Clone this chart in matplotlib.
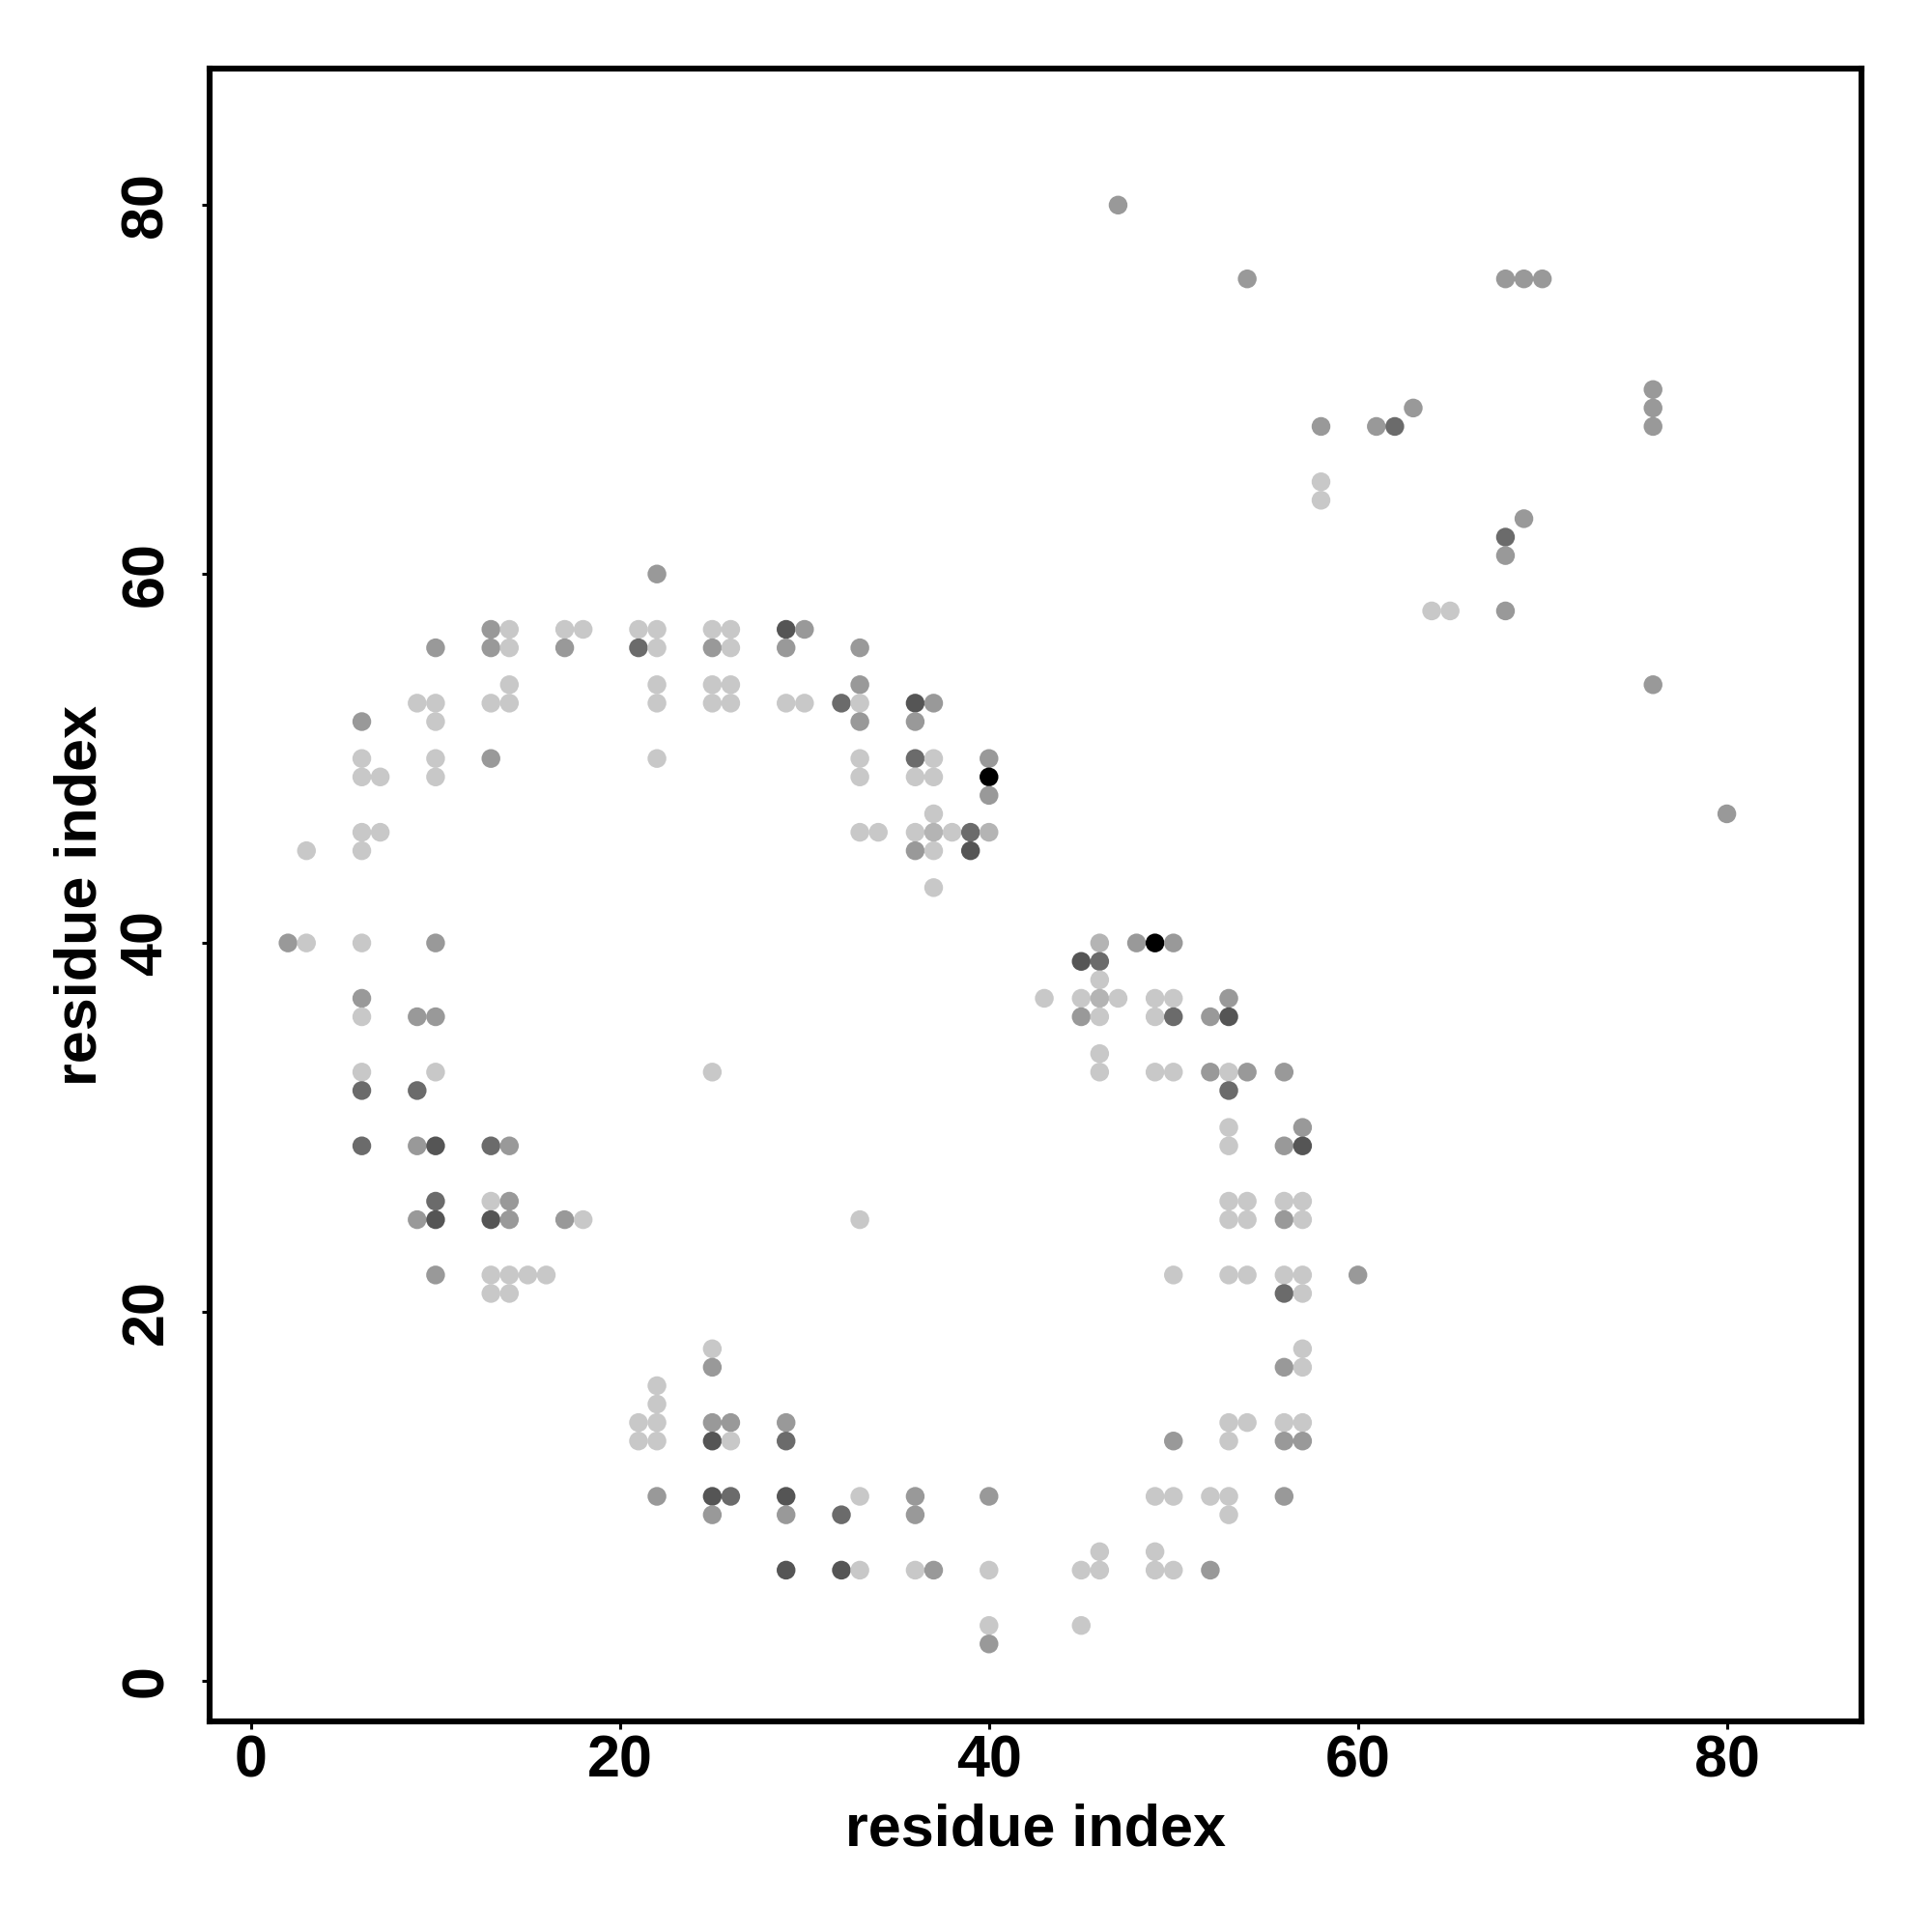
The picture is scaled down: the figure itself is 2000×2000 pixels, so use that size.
import matplotlib
matplotlib.use("Agg")
import matplotlib.pyplot as plt

plt.rcParams['font.family'] = ['Liberation Sans', 'DejaVu Sans']
plt.rcParams['font.weight'] = 'bold'

# contact rows: residue index on y, contacting residues on x, shade codes per contact
row_y = [80, 76, 70, 69, 68, 65, 64, 63, 62, 61, 60, 58, 57, 56, 54, 53, 52, 50, 49, 48,
         47, 46, 45, 43, 40, 39, 38, 37, 36, 34, 33, 32, 30, 29, 26, 25, 22, 21, 18, 17,
         16, 15, 14, 13, 10, 9, 7, 6, 3, 2]
row_x = [
    [47],
    [54, 68, 69, 70],
    [76],
    [63, 76],
    [58, 61, 62, 76],
    [58],
    [58],
    [69],
    [68],
    [68],
    [22],
    [64, 65, 68],
    [13, 14, 17, 18, 21, 22, 25, 26, 29, 30],
    [10, 13, 14, 17, 21, 22, 25, 26, 29, 33],
    [14, 22, 25, 26, 33, 76],
    [9, 10, 13, 14, 22, 25, 26, 29, 30, 32, 33, 36, 37],
    [6, 10, 33, 36],
    [6, 10, 13, 22, 33, 36, 37, 40],
    [6, 7, 10, 33, 36, 37, 40],
    [40],
    [37, 80],
    [6, 7, 33, 34, 36, 37, 38, 39, 40],
    [3, 6, 36, 37, 39],
    [37],
    [2, 3, 6, 10, 46, 48, 49, 50],
    [45, 46],
    [46],
    [6, 43, 45, 46, 47, 49, 50, 53],
    [6, 9, 10, 45, 46, 49, 50, 52, 53],
    [46],
    [6, 10, 25, 46, 49, 50, 52, 53, 54, 56],
    [6, 9, 53],
    [53, 57],
    [6, 9, 10, 13, 14, 53, 56, 57],
    [10, 13, 14, 53, 54, 56, 57],
    [9, 10, 13, 14, 17, 18, 33, 53, 54, 56, 57],
    [10, 13, 14, 15, 16, 50, 53, 54, 56, 57, 60],
    [13, 14, 56, 57],
    [25, 57],
    [25, 56, 57],
    [22],
    [22],
    [21, 22, 25, 26, 29, 53, 54, 56, 57],
    [21, 22, 25, 26, 29, 50, 53, 56, 57],
    [22, 25, 26, 29, 33, 36, 40, 49, 50, 52, 53, 56],
    [25, 29, 32, 36, 53],
    [46, 49],
    [29, 32, 33, 36, 37, 40, 45, 46, 49, 50, 52],
    [40, 45],
    [40],
]
row_shade = [
    "3", "3333", "3", "33", "3343", "1", "1", "3", "4", "3", "3", "113",
    "3111111153", "3313413133", "111133", "1111111114153", "3133", "11311413",
    "1111116", "3", "13", "111112142", "11315", "1", "31132363", "54", "1",
    "31121113", "133311435", "1", "1111113133", "444", "13", "43543135",
    "4131111", "35533111131", "31111111113", "1141", "11", "331", "1", "1",
    "113331111", "115143133", "354513311113", "33431", "11", "55113111113",
    "11", "3",
]
shade_colors = {"1": "#C8C8C8", "2": "#B4B4B4", "3": "#999999",
                "4": "#6B6B6B", "5": "#555555", "6": "#000000"}
ticks = [0, 20, 40, 60, 80]

xs, ys, cs = [], [], []
for yv, xrow, srow in zip(row_y, row_x, row_shade):
    for xv, s in zip(xrow, srow):
        xs.append(xv)
        ys.append(yv)
        cs.append(shade_colors[s])

fig = plt.figure(figsize=(10, 10), dpi=200)
ax = fig.add_axes([0.1085, 0.109, 0.855, 0.8555])
ax.scatter(xs, ys, s=49, c=cs, linewidths=0)

ax.set_xlim(-2.25, 87.3)
ax.set_ylim(-2.2, 87.4)
ax.set_xticks(ticks)
ax.set_yticks(ticks)
for sp in ax.spines.values():
    sp.set_linewidth(2.2)
ax.tick_params(axis='both', length=3, width=1.1, labelsize=22)
ax.tick_params(axis='x', pad=2)
ax.tick_params(axis='y', pad=10, labelrotation=90)
for lab in ax.get_yticklabels():
    lab.set_va('center')
    lab.set_fontweight('bold')
for lab in ax.get_xticklabels():
    lab.set_fontweight('bold')

ax.set_xlabel("residue index", fontsize=22, fontweight='bold', labelpad=5)
ax.set_ylabel("residue index", fontsize=22, fontweight='bold', labelpad=4)

fig.savefig("out.png", dpi=200)
